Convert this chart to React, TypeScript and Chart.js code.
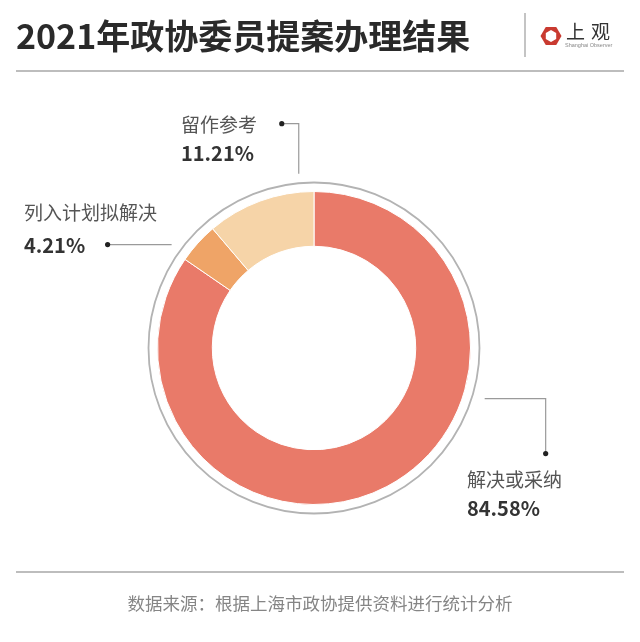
import React, { useEffect, useRef } from "react";
import { Chart, registerables } from "chart.js";

Chart.register(...registerables);

const categories = ["解决或采纳", "列入计划拟解决", "留作参考"];
const values = [84.58, 4.21, 11.21];
const pctLabels = ["84.58%", "4.21%", "11.21%"];
const colors = ["#E97A69", "#EFA467", "#F6D4A8"];
const title = "2021年政协委员提案办理结果";
const source = "数据来源：根据上海市政协提供资料进行统计分析";

// leader geometry (angle in degrees clockwise from top, segments)
const leaders = [
  { angle: 106.5, dist: 178, segs: [[61, 0], [0, 55]] },
  { angle: 306, dist: 176, segs: [[-64, 0]] },
  { angle: 355, dist: 175, segs: [[0, -50], [-17, 0]] },
];

const labelPos = [
  { left: 467, top: 469, pctTop: 498 },
  { left: 24, top: 202, pctTop: 235 },
  { left: 181, top: 114, pctTop: 143 },
];

const FONT = '"Noto Sans CJK SC", "Noto Sans", sans-serif';

const decorPlugin = {
  id: "decor",
  afterDatasetsDraw(chart: any) {
    const meta = chart.getDatasetMeta(0);
    const arc = meta.data[0];
    if (!arc) return;
    const cx = arc.x;
    const cy = arc.y;
    const R = arc.outerRadius;
    const ctx = chart.ctx;
    ctx.save();
    ctx.beginPath();
    ctx.arc(cx, cy, R + 9, 0, Math.PI * 2);
    ctx.strokeStyle = "#b3b3b3";
    ctx.lineWidth = 1.8;
    ctx.stroke();

    leaders.forEach((l) => {
      const a = (l.angle * Math.PI) / 180;
      let x = cx + Math.sin(a) * l.dist;
      let y = cy - Math.cos(a) * l.dist;
      ctx.beginPath();
      ctx.moveTo(x, y);
      l.segs.forEach(([dx, dy]) => {
        x += dx;
        y += dy;
        ctx.lineTo(x, y);
      });
      ctx.strokeStyle = "#9a9a9a";
      ctx.lineWidth = 1.2;
      ctx.stroke();
      ctx.beginPath();
      ctx.arc(x, y, 2.6, 0, Math.PI * 2);
      ctx.fillStyle = "#222";
      ctx.fill();
    });
    ctx.restore();
  },
};

function DonutChart() {
  const ref = useRef<HTMLCanvasElement | null>(null);
  useEffect(() => {
    if (!ref.current) return;
    const chart = new Chart(ref.current, {
      type: "doughnut",
      data: {
        labels: categories,
        datasets: [
          {
            data: values,
            backgroundColor: colors,
            borderColor: "#ffffff",
            borderWidth: 1,
            hoverOffset: 0,
            offset: 0,
          },
        ],
      },
      options: {
        responsive: false,
        animation: false,
        cutout: "65%",
        rotation: 0,
        layout: { padding: { left: 157, right: 169, top: 191, bottom: 137 } },
        plugins: {
          legend: { display: false },
          tooltip: { enabled: false },
        },
        events: [],
      },
      plugins: [decorPlugin],
    } as any);
    return () => chart.destroy();
  }, []);
  return (
    <canvas
      ref={ref}
      width={640}
      height={642}
      style={{ position: "absolute", left: 0, top: 0, width: 640, height: 642 }}
    />
  );
}

function Logo() {
  const outer = [0, 1, 2, 3, 4, 5]
    .map((i) => {
      const a = (Math.PI / 3) * i;
      return `${11 + 10.5 * Math.cos(a)},${11 + 10.5 * Math.sin(a)}`;
    })
    .join(" ");
  const inner = [0, 1, 2, 3, 4, 5]
    .map((i) => {
      const a = (Math.PI / 3) * i + Math.PI / 6;
      return `${11 + 6 * Math.cos(a)},${11 + 6 * Math.sin(a)}`;
    })
    .join(" ");
  return (
    <div style={{ position: "absolute", left: 540, top: 22, width: 95, height: 30 }}>
      <svg width={22} height={22} style={{ position: "absolute", left: 0, top: 3 }}>
        <polygon points={outer} fill="#C93A30" />
        <polygon points={inner} fill="#ffffff" />
      </svg>
      <div
        style={{
          position: "absolute",
          left: 26,
          top: -1,
          fontFamily: '"Noto Sans CJK SC", serif',
          fontSize: 19,
          lineHeight: "19px",
          color: "#333",
          letterSpacing: 6,
          whiteSpace: "nowrap",
        }}
      >
        上观
      </div>
      <div
        style={{
          position: "absolute",
          left: 25,
          top: 20,
          fontFamily: '"Liberation Sans", sans-serif',
          fontSize: 5.5,
          lineHeight: "6px",
          color: "#888",
          whiteSpace: "nowrap",
        }}
      >
        Shanghai Observer
      </div>
    </div>
  );
}

export default function App() {
  return (
    <div
      style={{
        position: "absolute",
        left: 0,
        top: 0,
        width: 640,
        height: 642,
        background: "#ffffff",
        overflow: "hidden",
        fontFamily: FONT,
      }}
    >
      <DonutChart />
      <div
        style={{
          position: "absolute",
          left: 16,
          top: 17,
          fontSize: 34,
          lineHeight: "35px",
          fontWeight: 700,
          color: "#2a2a2a",
          whiteSpace: "nowrap",
        }}
      >
        {title}
      </div>
      <div style={{ position: "absolute", left: 524, top: 13, width: 1.5, height: 44, background: "#c4c4c4" }} />
      <Logo />
      <div style={{ position: "absolute", left: 16, top: 70, width: 608, height: 2, background: "#bdbdbd" }} />
      {categories.map((c, i) => (
        <React.Fragment key={c}>
          <div
            style={{
              position: "absolute",
              left: labelPos[i].left,
              top: labelPos[i].top,
              fontSize: 19,
              lineHeight: "19px",
              color: "#555",
              whiteSpace: "nowrap",
            }}
          >
            {c}
          </div>
          <div
            style={{
              position: "absolute",
              left: labelPos[i].left,
              top: labelPos[i].pctTop,
              fontSize: 20,
              lineHeight: "20px",
              fontWeight: 700,
              color: "#333",
              whiteSpace: "nowrap",
            }}
          >
            {pctLabels[i]}
          </div>
        </React.Fragment>
      ))}
      <div style={{ position: "absolute", left: 16, top: 571, width: 608, height: 2, background: "#bdbdbd" }} />
      <div
        style={{
          position: "absolute",
          left: 0,
          width: 640,
          top: 594,
          textAlign: "center",
          fontSize: 17.5,
          lineHeight: "18px",
          color: "#858585",
          whiteSpace: "nowrap",
        }}
      >
        {source}
      </div>
    </div>
  );
}
